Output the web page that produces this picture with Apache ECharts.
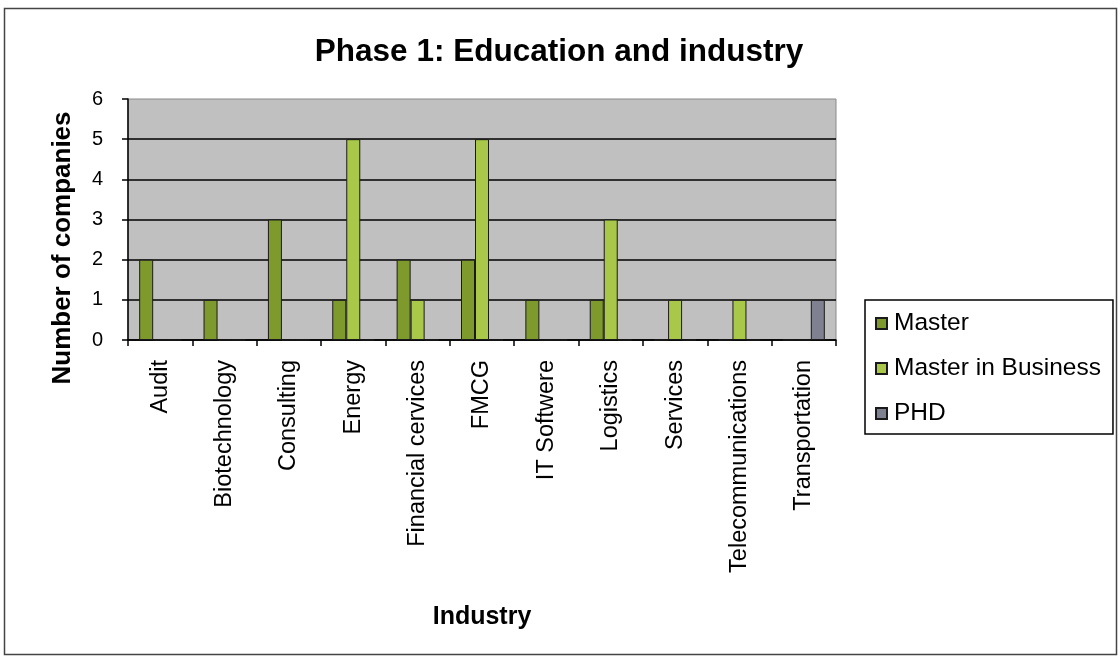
<!DOCTYPE html>
<html>
<head>
<meta charset="utf-8">
<script src="https://cdn.jsdelivr.net/npm/echarts@6/dist/echarts.min.js"></script>
<style>
  html, body { margin: 0; padding: 0; background: #fff; }
  #main { width: 1118px; height: 657px; }
</style>
</head>
<body>
<div id="main"></div>
<script>
// data
var industries = ['Audit', 'Biotechnology', 'Consulting', 'Energy', 'Financial cervices', 'FMCG',
  'IT Softwere', 'Logistics', 'Services', 'Telecommunications', 'Transportation']
var master = [2, 1, 3, 1, 2, 2, 1, 1, 0, 0, 0]
var masterBusiness = [0, 0, 0, 5, 1, 5, 0, 3, 1, 1, 0]
var phd = [0, 0, 0, 0, 0, 0, 0, 0, 0, 0, 1]
var yTicks = [0, 1, 2, 3, 4, 5, 6]

var myChart = echarts.init(document.getElementById('main'))

function bar(name, data, color) {
  return {
    name: name,
    type: 'bar',
    data: data,
    barWidth: 14,
    barGap: '0%',
    itemStyle: { color: color, borderColor: '#1a1a1a', borderWidth: 1 }
  }
}

var option = {
  animation: false,
  textStyle: { fontFamily: 'Liberation Sans, Arial, sans-serif', color: '#000' },
  graphic: [{
    type: 'rect',
    shape: { x: 4.5, y: 8.5, width: 1112, height: 646 },
    style: { fill: 'none', stroke: '#444', lineWidth: 1.5 },
    z: -1
  }],
  title: {
    text: 'Phase 1: Education and industry',
    left: 'center',
    top: 31,
    textStyle: { fontSize: 31.5, fontWeight: 'bold', color: '#000', fontFamily: 'Liberation Sans, Arial' }
  },
  legend: {
    orient: 'vertical',
    left: 865,
    top: 300,
    data: ['Master', 'Master in Business', 'PHD'],
    itemWidth: 11,
    itemHeight: 11,
    itemGap: 20,
    padding: [11, 12, 8, 10],
    borderColor: '#000',
    borderWidth: 1.5,
    icon: 'rect',
    textStyle: { fontSize: 24.5, color: '#000', padding: [0, 0, 0, 2] }
  },
  grid: {
    left: 128,
    right: 282,
    top: 99,
    bottom: 317,
    show: true,
    backgroundColor: '#c0c0c0',
    borderColor: '#8a8a8a',
    borderWidth: 1,
    containLabel: false
  },
  xAxis: {
    type: 'category',
    data: industries,
    name: 'Industry',
    nameLocation: 'middle',
    nameGap: 265,
    nameTextStyle: { fontSize: 25, fontWeight: 'bold', color: '#000' },
    axisLine: { lineStyle: { color: '#000', width: 1.5 } },
    axisTick: { show: true, length: 6, lineStyle: { color: '#000', width: 1.5 } },
    axisLabel: { rotate: 90, fontSize: 23.5, color: '#000', margin: 20 }
  },
  yAxis: {
    type: 'value',
    min: yTicks[0],
    max: yTicks[yTicks.length - 1],
    interval: 1,
    name: 'Number of companies',
    nameLocation: 'middle',
    nameGap: 52,
    nameTextStyle: { fontSize: 26, fontWeight: 'bold', color: '#000', padding: [0, 57, 0, 0] },
    axisLine: { show: true, lineStyle: { color: '#000', width: 1.5 } },
    axisTick: { show: true, length: 6, lineStyle: { color: '#000', width: 1.5 } },
    axisLabel: { fontSize: 20, color: '#000', margin: 25 },
    splitLine: { showMaxLine: false, lineStyle: { color: '#000', width: 1.5 } }
  },
  series: [
    bar('Master', master, '#7f9a2c'),
    bar('Master in Business', masterBusiness, '#a9c84a'),
    bar('PHD', phd, '#7f8090')
  ]
}

myChart.setOption(option)
</script>
</body>
</html>
